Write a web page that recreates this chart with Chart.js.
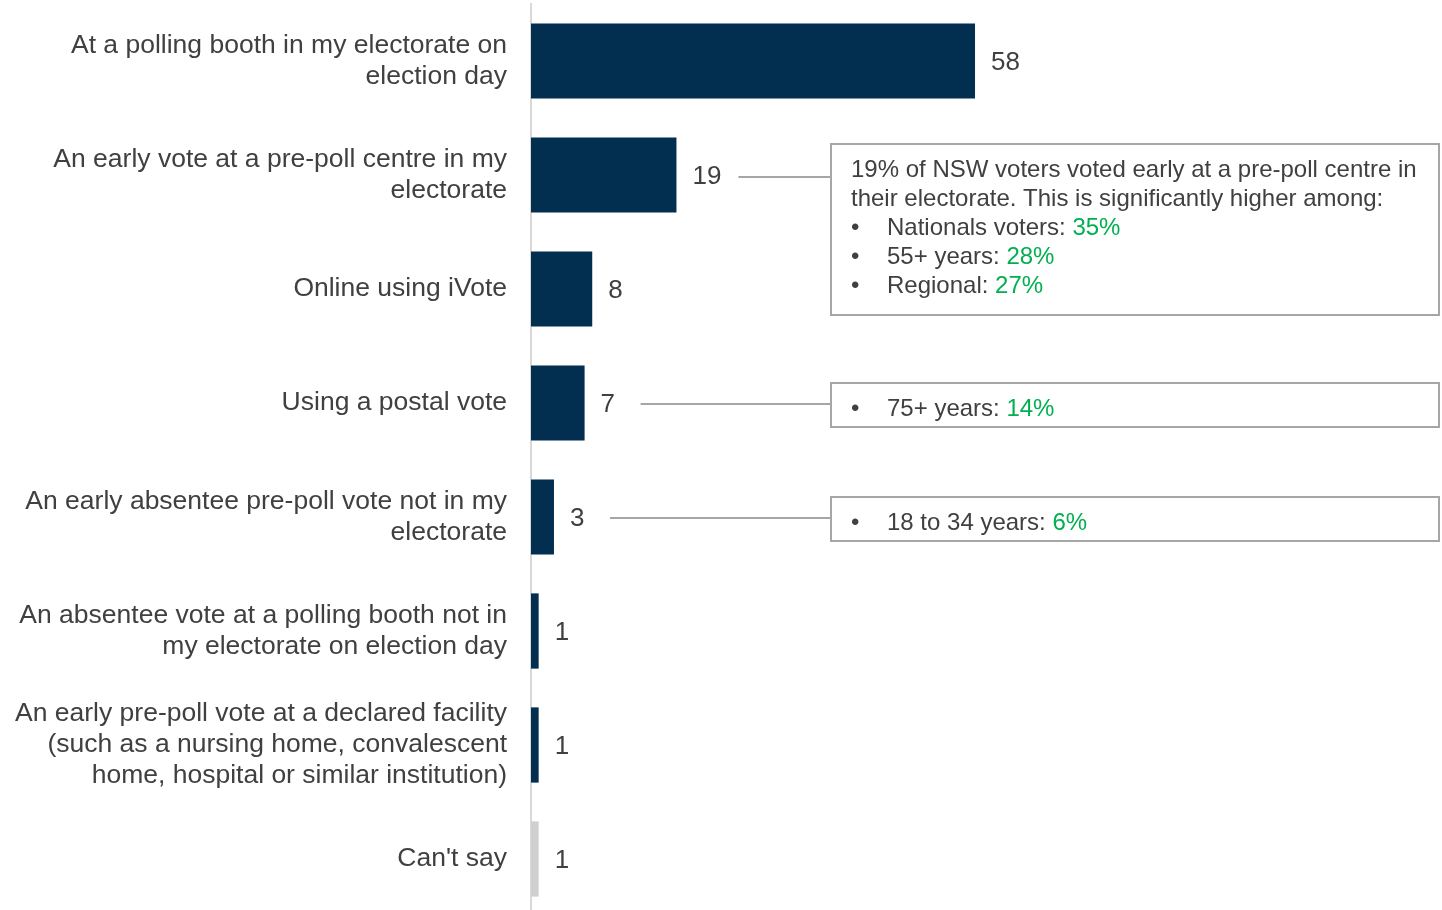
<!DOCTYPE html>
<html>
<head>
<meta charset="utf-8">
<script src="https://cdn.jsdelivr.net/npm/chart.js@4"></script>
<style>
    html, body { margin: 0; padding: 0; background: #fff; overflow: hidden; }
    #wrap { width: 1442px; height: 916px; position: relative; }
</style>
</head>
<body>
<div id="wrap"><canvas id="vote-method-chart"></canvas></div>
<script>
// How people voted (%)
const categories = [
    ['At a polling booth in my electorate on', 'election day'],
    ['An early vote at a pre-poll centre in my', 'electorate'],
    'Online using iVote',
    'Using a postal vote',
    ['An early absentee pre-poll vote not in my', 'electorate'],
    ['An absentee vote at a polling booth not in', 'my electorate on election day'],
    ['An early pre-poll vote at a declared facility', '(such as a nursing home, convalescent', 'home, hospital or similar institution)'],
    "Can't say"
];
const values = [58, 19, 8, 7, 3, 1, 1, 1];

// Callout notes: which row they point at, plain lines, bullet lines [label, figure]
const calloutRows = [1, 3, 4];
const calloutIntro = [
    ['19% of NSW voters voted early at a pre-poll centre in', 'their electorate. This is significantly higher among:'],
    [],
    []
];
const calloutBullets = [
    [['Nationals voters: ', '35%'], ['55+ years: ', '28%'], ['Regional: ', '27%']],
    [['75+ years: ', '14%']],
    [['18 to 34 years: ', '6%']]
];

const NAVY = '#022e50';
const GREY_BAR = '#d0d0d0';
const TEXT = '#404040';
const GREEN = '#00b050';
const FONT = 'Arial, "Liberation Sans", sans-serif';

const barColors = categories.map(c => c === "Can't say" ? GREY_BAR : NAVY);

// value at the end of each bar
const valueLabels = {
    id: 'valueLabels',
    afterDatasetsDraw(chart) {
        const ctx = chart.ctx;
        const meta = chart.getDatasetMeta(0);
        ctx.save();
        ctx.font = '26px ' + FONT;
        ctx.fillStyle = TEXT;
        ctx.textAlign = 'left';
        ctx.textBaseline = 'middle';
        meta.data.forEach((bar, i) => {
            ctx.fillText(String(values[i]), bar.x + 16, bar.y + 2);
        });
        ctx.restore();
    }
};

// boxed notes joined to their bars by a line
const callouts = {
    id: 'callouts',
    afterDraw(chart) {
        const ctx = chart.ctx;
        const x = chart.scales.x;
        const y = chart.scales.y;
        const boxLeft = 831, boxRight = 1439;
        const lineH = 29;
        ctx.save();
        ctx.font = '24px ' + FONT;
        ctx.textBaseline = 'middle';
        calloutRows.forEach((row, k) => {
            const cy = y.getPixelForValue(row);
            const intro = calloutIntro[k];
            const bullets = calloutBullets[k];
            const nLines = intro.length + bullets.length;
            const multi = nLines > 1;
            const top = multi ? cy - 31 : cy - 20;
            const height = multi ? nLines * lineH + 26 : 44;
            const lineY = multi ? cy + 2 : cy + 1;

            // connector
            ctx.strokeStyle = '#a6a6a6';
            ctx.lineWidth = 2;
            ctx.beginPath();
            ctx.moveTo(x.getPixelForValue(values[row]) + 62 - (multi ? 0 : 6), lineY);
            ctx.lineTo(boxLeft, lineY);
            ctx.stroke();

            // box
            ctx.fillStyle = '#fff';
            ctx.fillRect(boxLeft, top, boxRight - boxLeft, height);
            ctx.strokeRect(boxLeft, top, boxRight - boxLeft, height);

            // text
            let ty = top + 26;
            intro.forEach(line => {
                ctx.fillStyle = TEXT;
                ctx.fillText(line, boxLeft + 20, ty);
                ty += lineH;
            });
            bullets.forEach(([label, fig]) => {
                ctx.fillStyle = TEXT;
                ctx.fillText('•', boxLeft + 20, ty);
                ctx.fillText(label, boxLeft + 56, ty);
                const w = ctx.measureText(label).width;
                ctx.fillStyle = GREEN;
                ctx.fillText(fig, boxLeft + 56 + w, ty);
                ty += lineH;
            });
        });
        ctx.restore();
    }
};

new Chart(document.getElementById('vote-method-chart'), {
    type: 'bar',
    data: {
        labels: categories,
        datasets: [{
            data: values,
            backgroundColor: barColors,
            borderWidth: 0,
            categoryPercentage: 1,
            barPercentage: 0.66
        }]
    },
    options: {
        indexAxis: 'y',
        responsive: true,
        maintainAspectRatio: false,
        animation: false,
        layout: { padding: { top: 4, right: 0, bottom: 0, left: 0 } },
        plugins: {
            legend: { display: false },
            tooltip: { enabled: false }
        },
        scales: {
            x: {
                display: false,
                min: 0,
                max: 119
            },
            y: {
                afterFit: scale => {
                    scale.width = 531;
                    scale.paddingTop = 0;
                    scale.paddingBottom = 0;
                },
                grid: { display: false, drawTicks: false },
                border: { display: true, color: '#d9d9d9', width: 2 },
                ticks: {
                    padding: 24,
                    color: TEXT,
                    font: { family: FONT, size: 26.5, lineHeight: 1.17 }
                }
            }
        }
    },
    plugins: [valueLabels, callouts]
});
</script>
</body>
</html>
